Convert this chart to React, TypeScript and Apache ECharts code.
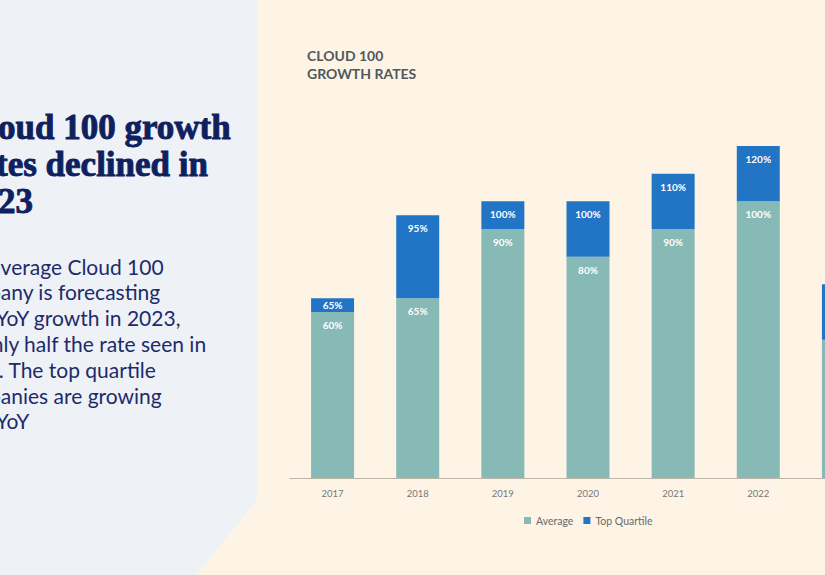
import React, { useEffect, useRef } from "react";
import * as echarts from "echarts";

const years = ["2017", "2018", "2019", "2020", "2021", "2022", "2023"];
const average = [60, 65, 90, 80, 90, 100, 50];
const topQuartile = [65, 95, 100, 100, 110, 120, 70];
const seriesNames = ["Average", "Top Quartile"];
const headlineLines = ["Cloud 100 growth", "rates declined in", "2023"];
const bodyLines = [
  "The average Cloud 100",
  "company is forecasting",
  "50% YoY growth in 2023,",
  "roughly half the rate seen in",
  "2022. The top quartile",
  "companies are growing",
  "70% YoY",
];
const chartTitleLines = ["CLOUD 100", "GROWTH RATES"];

const CREAM = "#fdf4e6";
const PANEL = "#eef2f7";
const TEAL = "#87b9b6";
const BLUE = "#2274c5";
const NAVY = "#0e215e";

export default function App() {
  const ref = useRef<HTMLDivElement>(null);
  useEffect(() => {
    if (!ref.current) return;
    const chart = echarts.init(ref.current, null, { renderer: "svg" });
    const graphics: any[] = [
      {
        type: "polygon",
        silent: true,
        shape: { points: [[0, 0], [257, 0], [257, 500], [196, 575], [0, 575]] },
        style: { fill: PANEL },
      },
    ];
    headlineLines.forEach((t, i) => {
      graphics.push({
        type: "text",
        x: -37,
        y: 127 + i * 37,
        style: {
          text: t,
          font: "bold 35px 'Liberation Serif', serif",
          fill: NAVY,
          stroke: NAVY,
          lineWidth: 0.9,
          verticalAlign: "middle",
        },
      });
    });
    bodyLines.forEach((t, i) => {
      graphics.push({
        type: "text",
        x: -50,
        y: 266 + i * 25.8,
        style: {
          text: t,
          font: "21px Lato, sans-serif",
          fill: "#1d2b6a",
          verticalAlign: "middle",
        },
      });
    });
    chartTitleLines.forEach((t, i) => {
      graphics.push({
        type: "text",
        x: 307,
        y: 55 + i * 18,
        style: {
          text: t,
          font: "bold 14px Lato, sans-serif",
          fill: "#52575c",
          verticalAlign: "middle",
        },
      });
    });

    const labelBase = {
      show: true,
      position: "insideTop" as const,
      distance: 8,
      color: "#ffffff",
      fontSize: 10,
      fontWeight: "bold" as const,
      fontFamily: "Lato, sans-serif",
    };

    chart.setOption({
      animation: false,
      backgroundColor: CREAM,
      textStyle: { fontFamily: "Lato, sans-serif" },
      graphic: graphics,
      grid: { left: 290, top: 146, width: 596, height: 332 },
      legend: {
        data: seriesNames,
        left: 519,
        top: 510,
        icon: "rect",
        itemWidth: 7,
        itemHeight: 7,
        itemGap: 10,
        textStyle: { fontSize: 10.5, color: "#6a6a6a", fontFamily: "Lato, sans-serif" },
      },
      xAxis: {
        type: "category",
        data: years,
        axisLine: { lineStyle: { color: "#bdb5a8", width: 1 } },
        axisTick: { show: false },
        axisLabel: { color: "#777777", fontSize: 9.5, margin: 10 },
      },
      yAxis: { type: "value", min: 0, max: 120, show: false, splitLine: { show: false } },
      series: [
        {
          name: seriesNames[0],
          type: "bar",
          stack: "g",
          barWidth: 43,
          itemStyle: { color: TEAL },
          label: { ...labelBase, formatter: (p: any) => `${average[p.dataIndex]}%` },
          data: average,
        },
        {
          name: seriesNames[1],
          type: "bar",
          stack: "g",
          barWidth: 43,
          itemStyle: { color: BLUE },
          label: { ...labelBase, formatter: (p: any) => `${topQuartile[p.dataIndex]}%` },
          data: topQuartile.map((v, i) => {
            const d = v - average[i];
            return d < 8 ? { value: d, label: { distance: 2 } } : d;
          }),
        },
      ],
    });
    return () => chart.dispose();
  }, []);
  return (
    <div
      style={{
        position: "fixed",
        left: 0,
        top: 0,
        width: 825,
        height: 575,
        overflow: "hidden",
        background: CREAM,
      }}
    >
      <div ref={ref} style={{ width: 960, height: 575 }} />
    </div>
  );
}
